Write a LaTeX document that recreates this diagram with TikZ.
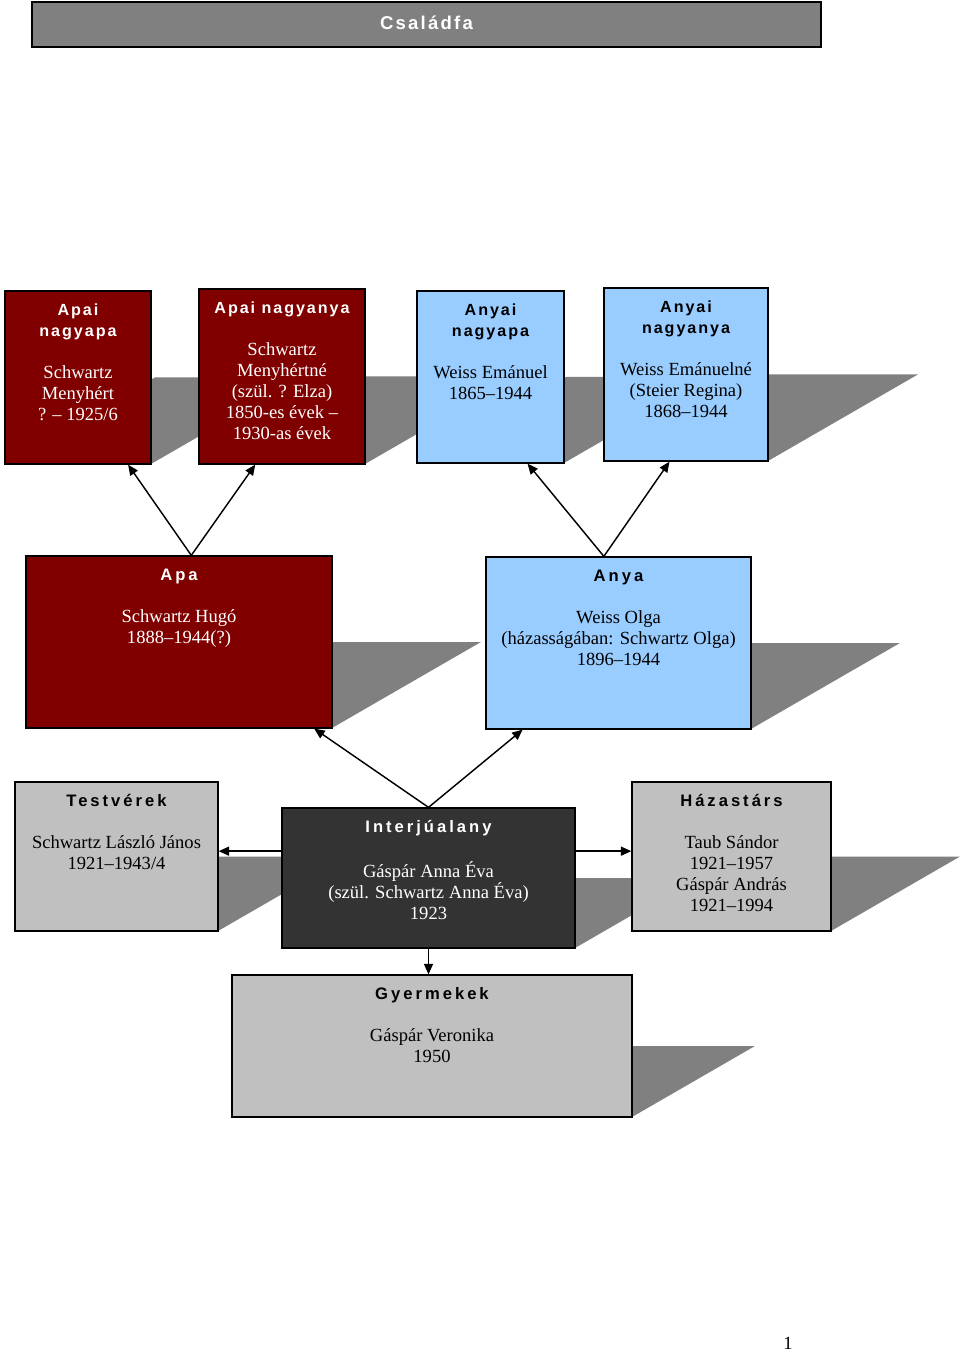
\documentclass[tikz,border=0pt]{standalone}
\usepackage{fontspec}
\setmainfont{Liberation Serif}
\setsansfont{Liberation Sans}
\newfontfamily\headfont{Liberation Sans}[LetterSpace=18]
\newfontfamily\headfonttop{Liberation Sans}[LetterSpace=12]
\newfontfamily\titlefont{Liberation Sans}[LetterSpace=12]
\usetikzlibrary{fit,calc,arrows.meta}

\definecolor{maroon}{HTML}{800000}
\definecolor{skyblue}{HTML}{99CCFF}
\definecolor{silver}{HTML}{C0C0C0}
\definecolor{charcoal}{HTML}{333333}
\definecolor{shadowgray}{HTML}{808080}

% heading lines of a card
\newcommand{\hd}[1]{{\headfont\bfseries\fontsize{10.3}{13}\selectfont\strut#1}}
\newcommand{\hdt}[1]{{\headfonttop\bfseries\fontsize{10}{13}\selectfont\strut#1}}

% card: name, x0, y0, x1, y1, kind, text
\newcommand{\famcard}[7]{%
  \pgfmathsetmacro{\cardh}{#5-#3}%
  \pgfmathsetmacro{\cardtop}{#5-0.5*\cardh}%
  \pgfmathsetmacro{\cardl}{#2+0.866*\cardh}%
  \pgfmathsetmacro{\cardr}{#4+0.866*\cardh}%
  \fill[shadowgray] (#2,#5) -- (#4,#5) -- (\cardr,\cardtop) -- (\cardl,\cardtop) -- cycle;
  \node[box,#6,fit={(#2,#3) (#4,#5)}] (#1) {};
  \node[boxtext,#6 text] (#1-text) at ([yshift=-6.4pt]#1.north) {#7};
}

\begin{document}
\begin{tikzpicture}[x=0.62pt,y=-0.62pt,
      box/.style={draw=black,line width=0.8pt,inner sep=0pt},
      boxtext/.style={align=center,inner sep=0pt,anchor=north,
        font=\fontsize{11.5}{13}\selectfont},
      pat/.style={fill=maroon},
      pat text/.style={text=white},
      mat/.style={fill=skyblue},
      mat text/.style={text=black},
      kin/.style={fill=silver},
      kin text/.style={text=black},
      self/.style={fill=charcoal},
      self text/.style={text=white},
      arr/.style={-{Triangle[length=6.5pt,width=5.6pt]},line width=0.9pt}]
    \useasboundingbox (0,0) rectangle (960,1355);

    % title bar
    \node[box,fill=shadowgray,fit={(32,2) (821,47)}] (title) {};
    \node[text=white,font=\titlefont\bfseries\fontsize{11.5}{13}\selectfont]
      (title-text) at ([yshift=1pt]title.center) {Családfa};

    % grandparents
    \famcard{apnagyapa}{5}{291}{151}{464}{pat}
      {\hdt{Apai}\\\hdt{nagyapa}\\[13pt]Schwartz\\Menyhért\\? – 1925/6}
    \famcard{apnagyanya}{199}{289}{365}{464}{pat}
      {\hdt{Apai nagyanya}\\[13pt]Schwartz\\Menyhértné\\(szül. ? Elza)\\1850-es évek –\\1930-as évek}
    \famcard{anynagyapa}{417}{291}{564}{463}{mat}
      {\hdt{Anyai}\\\hdt{nagyapa}\\[13pt]Weiss Emánuel\\1865–1944}
    \famcard{anynagyanya}{604}{288}{768}{461}{mat}
      {\hdt{Anyai}\\\hdt{nagyanya}\\[13pt]Weiss Emánuelné\\(Steier Regina)\\1868–1944}

    % parents
    \famcard{apa}{26}{556}{332}{728}{pat}
      {\hd{Apa}\\[13pt]Schwartz Hugó\\1888–1944(?)}
    \famcard{anya}{486}{557}{751}{729}{mat}
      {\hd{Anya}\\[13pt]Weiss Olga\\(házasságában: Schwartz Olga)\\1896–1944}

    % interviewee row
    \famcard{testver}{15}{782}{218}{931}{kin}
      {\hd{Testvérek}\\[13pt]Schwartz László János\\1921–1943/4}
    \famcard{interju}{282}{808}{575}{948}{self}
      {\hd{Interjúalany}\\[13pt]Gáspár Anna Éva\\(szül. Schwartz Anna Éva)\\1923}
    \famcard{hazastars}{632}{782}{831}{931}{kin}
      {\hd{Házastárs}\\[13pt]Taub Sándor\\1921–1957\\Gáspár András\\1921–1994}

    % children
    \famcard{gyermek}{232}{975}{632}{1117}{kin}
      {\hd{Gyermekek}\\[13pt]Gáspár Veronika\\1950}

    % connectors
    \draw[arr] ($(apa.north west)!0.54!(apa.north east)$) -- ($(apnagyapa.south west)!0.84!(apnagyapa.south east)$);
    \draw[arr] ($(apa.north west)!0.54!(apa.north east)$) -- ($(apnagyanya.south west)!0.34!(apnagyanya.south east)$);
    \draw[arr] ($(anya.north west)!0.445!(anya.north east)$) -- ($(anynagyapa.south west)!0.75!(anynagyapa.south east)$);
    \draw[arr] ($(anya.north west)!0.445!(anya.north east)$) -- ($(anynagyanya.south west)!0.40!(anynagyanya.south east)$);
    \draw[arr] (interju.north) -- ($(apa.south west)!0.94!(apa.south east)$);
    \draw[arr] (interju.north) -- ($(anya.south west)!0.14!(anya.south east)$);
    \coordinate (interju-l) at ($(interju.north west)!0.31!(interju.south west)$);
    \coordinate (interju-r) at ($(interju.north east)!0.31!(interju.south east)$);
    \draw[arr] (interju-l) -- (interju-l -| testver.east);
    \draw[arr] (interju-r) -- (interju-r -| hazastars.west);
    \draw[arr] (interju.south) -- (interju.south |- gyermek.north);

    % page number
    \node[font=\fontsize{11.5}{13}\selectfont] (pagenum) at (788,1343) {1};
  \end{tikzpicture}
\end{document}
